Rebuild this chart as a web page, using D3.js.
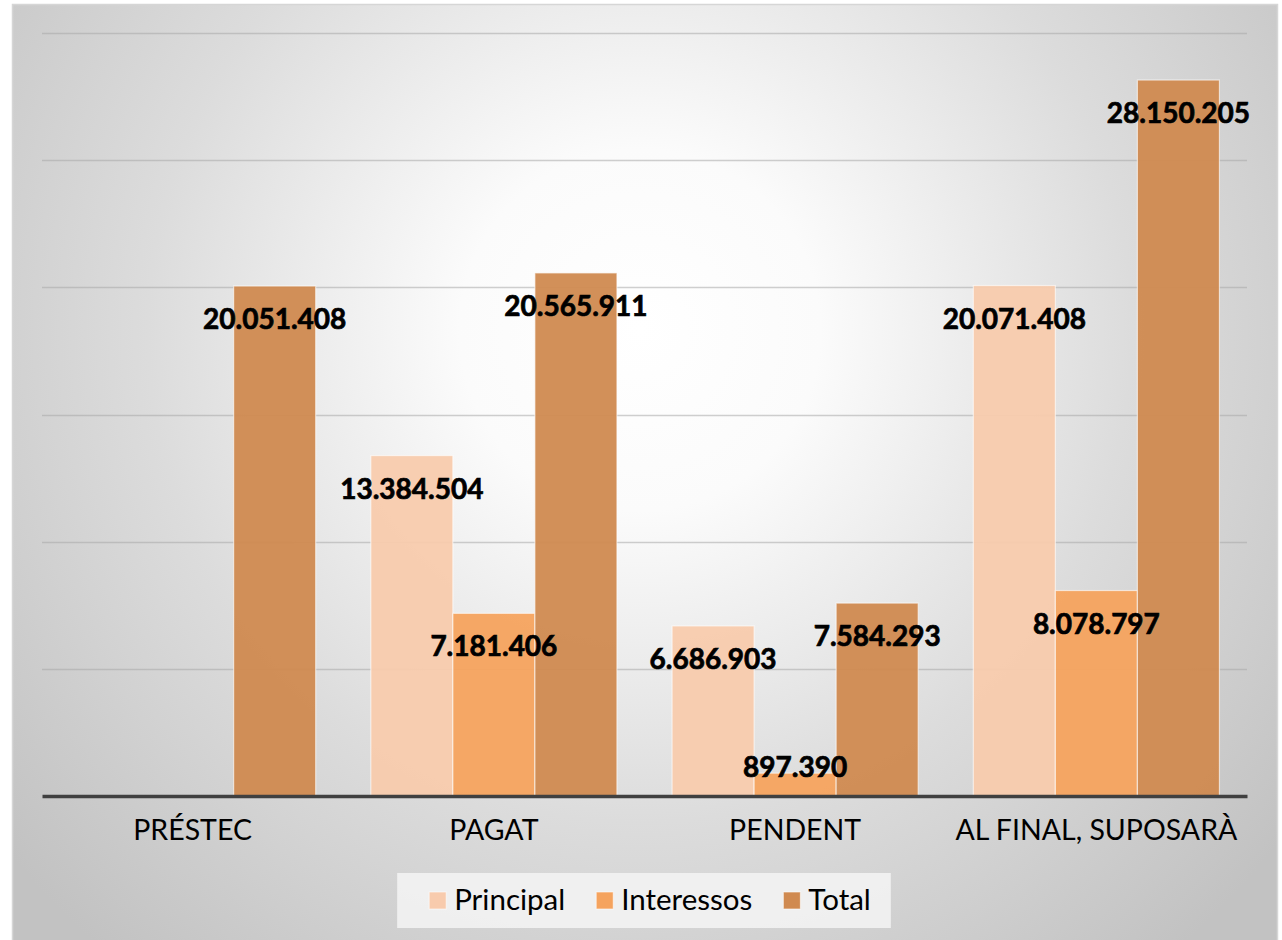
<!DOCTYPE html>
<html><head><meta charset="utf-8">
<script src="https://cdn.jsdelivr.net/npm/d3@7"></script>
<style>html,body{margin:0;padding:0;background:#fff;}svg{display:block;}</style>
</head><body>
<script>
const categories = ["PRÉSTEC", "PAGAT", "PENDENT", "AL FINAL, SUPOSARÀ"];
const seriesNames = ["Principal", "Interessos", "Total"];
const principal = [null, 13384504, 6686903, 20071408];
const interessos = [null, 7181406, 897390, 8078797];
const total = [20051408, 20565911, 7584293, 28150205];
const yTicks = [0, 5000000, 10000000, 15000000, 20000000, 25000000, 30000000];
const colors = ["#F8CBAD", "#F5A35E", "#D08A50"];

const W = 1282, H = 940;
const frame = {x: 12, y: 4, w: 1265, h: 940};
const plot = {left: 42, right: 1247, top: 33, bottom: 796};
const FONT = "Lato, 'Open Sans', sans-serif";

const loc = d3.formatLocale({decimal: ",", thousands: ".", grouping: [3], currency: ["", "€"]});
const fmt = loc.format(",d");

const svg = d3.select("body").append("svg").attr("width", W).attr("height", H);
const defs = svg.append("defs");
const rg = defs.append("radialGradient").attr("id", "bg")
  .attr("gradientUnits", "userSpaceOnUse")
  .attr("cx", 640).attr("cy", 330).attr("r", 820);
rg.append("stop").attr("offset", "0%").attr("stop-color", "#ffffff");
rg.append("stop").attr("offset", "22%").attr("stop-color", "#fbfbfb");
rg.append("stop").attr("offset", "60%").attr("stop-color", "#dcdcdc");
rg.append("stop").attr("offset", "100%").attr("stop-color", "#c2c2c2");

svg.append("rect").attr("x", frame.x + 0.5).attr("y", frame.y + 0.5)
  .attr("width", frame.w).attr("height", frame.h)
  .attr("fill", "url(#bg)").attr("stroke", "#d6d6d6").attr("stroke-width", 1.5);

const x0 = d3.scaleBand().domain(categories).range([plot.left, plot.right]).paddingInner(0).paddingOuter(0);
const x1 = d3.scaleBand().domain(seriesNames).range([0, x0.bandwidth()]).paddingOuter(0.336).paddingInner(0);
const y = d3.scaleLinear().domain([0, 30000000]).range([plot.bottom, plot.top]);

// gridlines
svg.append("g").selectAll("line").data(yTicks.filter(d => d > 0)).join("line")
  .attr("x1", plot.left).attr("x2", plot.right)
  .attr("y1", d => Math.round(y(d)) + 0.5).attr("y2", d => Math.round(y(d)) + 0.5)
  .attr("stroke", "#a8a8a8").attr("stroke-opacity", 0.55).attr("stroke-width", 1.5);

const seriesData = [principal, interessos, total];
const rows = [];
seriesData.forEach((arr, si) => arr.forEach((v, ci) => {
  if (v != null) rows.push({cat: categories[ci], s: seriesNames[si], si, v});
}));

svg.append("g").selectAll("rect").data(rows).join("rect")
  .attr("x", d => x0(d.cat) + x1(d.s))
  .attr("y", d => y(d.v))
  .attr("width", x1.bandwidth())
  .attr("height", d => y(0) - y(d.v))
  .attr("fill", d => colors[d.si]).attr("fill-opacity", 0.95)
  .attr("stroke", "#ffffff").attr("stroke-opacity", 0.6).attr("stroke-width", 1.2);

// baseline axis
const xAxis = d3.axisBottom(x0).tickSize(0).tickPadding(30);
const gx = svg.append("g").attr("transform", `translate(0,${plot.bottom})`).call(xAxis);
gx.select(".domain").attr("stroke", "#404040").attr("stroke-width", 3.5);
gx.selectAll("text").attr("font-family", FONT).attr("font-size", 28.5).attr("fill", "#000")
  .attr("dy", "0.5em");

// data labels
svg.append("g").selectAll("text").data(rows).join("text")
  .attr("x", d => x0(d.cat) + x1(d.s) + x1.bandwidth() / 2)
  .attr("y", d => Math.min(y(d.v) + 33, plot.bottom - 29))
  .attr("dy", "0.36em")
  .attr("text-anchor", "middle")
  .attr("font-family", FONT).attr("font-weight", "bold").attr("font-size", 28)
  .attr("fill", "#000").attr("stroke", "#000").attr("stroke-width", 0.7)
  .text(d => fmt(d.v));

// legend
const leg = svg.append("g");
const legBox = leg.append("rect").attr("fill", "#f4f4f4").attr("fill-opacity", 0.85);
const items = leg.selectAll("g").data(seriesNames).join("g");
items.append("rect").attr("width", 17).attr("height", 17).attr("y", -17)
  .attr("fill", (d, i) => colors[i]).attr("stroke", "#fff").attr("stroke-opacity", 0.6);
items.append("text").attr("x", 25).attr("y", 0).attr("dy", "0.02em")
  .attr("font-family", FONT).attr("font-size", 29.5).attr("fill", "#000").text(d => d);
const widths = [];
items.each(function () {
  const tw = d3.select(this).select("text").node().getComputedTextLength();
  widths.push(25 + tw);
});
const gap = 31;
const contentW = d3.sum(widths) + gap * (widths.length - 1);
const legCenter = 650, legBase = 909;
const startX = legCenter - contentW / 2;
items.attr("transform", (d, i) => {
  const tx = startX + d3.sum(widths.slice(0, i)) + gap * i;
  return `translate(${tx},${legBase})`;
});
legBox.attr("x", startX - 32).attr("y", 873).attr("width", contentW + 52).attr("height", 55);
</script>
</body></html>
